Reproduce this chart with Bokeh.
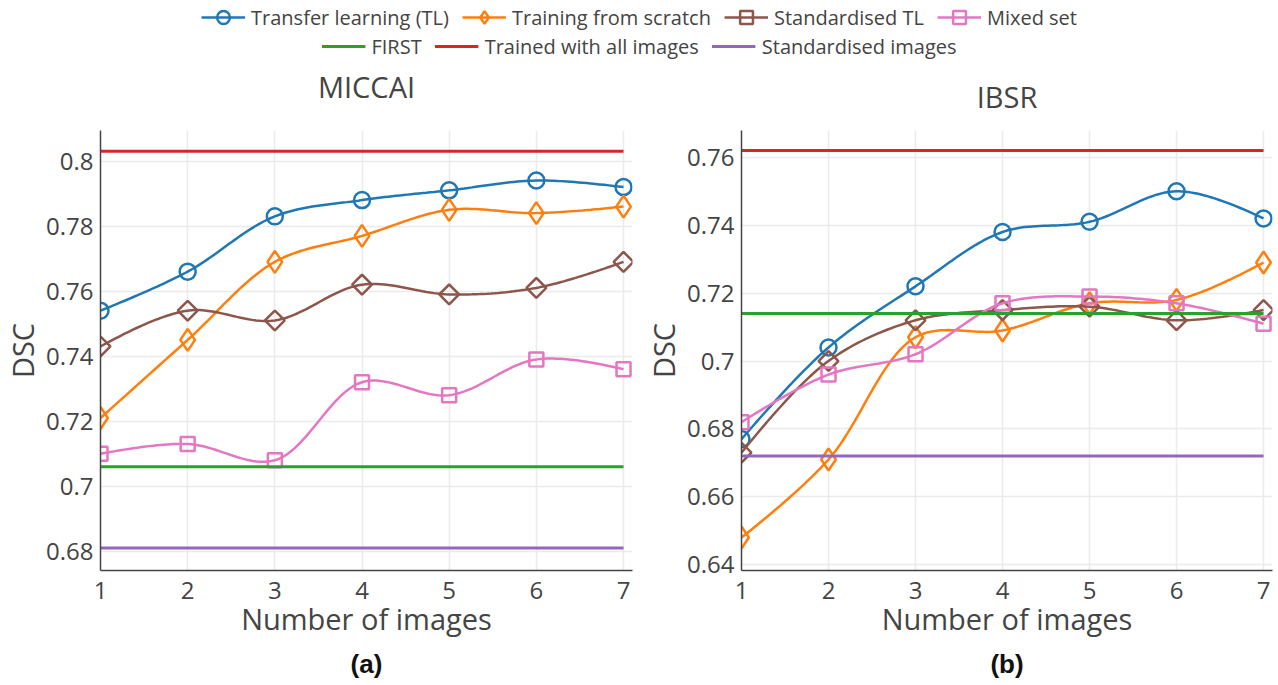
import numpy as np
from bokeh.plotting import figure
from bokeh.models import (Range1d, FixedTicker, CustomJSTickFormatter, Legend,
                          LegendItem, LinearAxis)
from bokeh.layouts import column, row
from bokeh.embed import file_html
from bokeh.resources import INLINE

# ---------------- data ----------------
n_images = [1, 2, 3, 4, 5, 6, 7]

miccai_tl = [0.754, 0.766, 0.783, 0.788, 0.791, 0.794, 0.792]
miccai_scratch = [0.721, 0.745, 0.769, 0.777, 0.785, 0.784, 0.786]
miccai_std_tl = [0.743, 0.754, 0.751, 0.762, 0.759, 0.761, 0.769]
miccai_mixed = [0.710, 0.713, 0.708, 0.732, 0.728, 0.739, 0.736]
miccai_first = 0.706
miccai_all = 0.803
miccai_std_images = 0.681
miccai_y_ticks = [0.68, 0.70, 0.72, 0.74, 0.76, 0.78, 0.80]

ibsr_tl = [0.677, 0.704, 0.722, 0.738, 0.741, 0.750, 0.742]
ibsr_scratch = [0.648, 0.671, 0.707, 0.709, 0.717, 0.718, 0.729]
ibsr_std_tl = [0.673, 0.700, 0.712, 0.715, 0.716, 0.712, 0.715]
ibsr_mixed = [0.682, 0.696, 0.702, 0.717, 0.719, 0.717, 0.711]
ibsr_first = 0.714
ibsr_all = 0.762
ibsr_std_images = 0.672
ibsr_y_ticks = [0.64, 0.66, 0.68, 0.70, 0.72, 0.74, 0.76]

series_names = ["Transfer learning (TL)", "Training from scratch", "Standardised TL", "Mixed set"]
ref_names = ["FIRST", "Trained with all images", "Standardised images"]

# ---------------- styles ----------------
S_COLORS = ["#1f77b4", "#ff7f0e", "#8c564b", "#e377c2"]
S_MARKERS = ["circle", "diamond", "square", "square"]
S_SIZES = [16, 22, 14, 14]
S_ANGLES = [0, 0, np.pi / 4, 0]
R_COLORS = ["#2ca02c", "#d62728", "#9467bd"]
FONT = "Open Sans"
TXT = "#444444"
LW = 2.5


def spline(xs, ys, kx, ky, smoothness=1.0, steps=24):
    """Plotly-like smooth open path through the points (computed in pixel space)."""
    P = np.column_stack([np.asarray(xs, float) * kx, np.asarray(ys, float) * ky])
    n = len(P)
    if n < 3:
        return list(xs), list(ys)
    tang = []
    for i in range(1, n - 1):
        d1 = P[i - 1] - P[i]
        d2 = P[i + 1] - P[i]
        d1a = (d1 @ d1) ** 0.25
        d2a = (d2 @ d2) ** 0.25
        num = (d2a * d2a * d1 - d1a * d1a * d2) * smoothness
        den1 = 3 * d2a * (d1a + d2a)
        den2 = 3 * d1a * (d1a + d2a)
        tang.append((P[i] + num / den1, P[i] - num / den2))
    t = np.linspace(0, 1, steps)[:, None]
    segs = [(1 - t) ** 2 * P[0] + 2 * (1 - t) * t * tang[0][0] + t ** 2 * P[1]]
    for i in range(2, n - 1):
        c1 = tang[i - 2][1]
        c2 = tang[i - 1][0]
        seg = ((1 - t) ** 3 * P[i - 1] + 3 * (1 - t) ** 2 * t * c1
               + 3 * (1 - t) * t ** 2 * c2 + t ** 3 * P[i])
        segs.append(seg[1:])
    c = tang[n - 3][1]
    segs.append(((1 - t) ** 2 * P[n - 2] + 2 * (1 - t) * t * c + t ** 2 * P[n - 1])[1:])
    Sg = np.vstack(segs)
    return list(Sg[:, 0] / kx), list(Sg[:, 1] / ky)


def label_axis(text, standoff, font, size, style, color):
    """An axis without ticks, used only to carry a text label outside the frame."""
    return LinearAxis(ticker=FixedTicker(ticks=[], minor_ticks=[]), axis_label=text,
                      axis_line_color=None, major_tick_line_color=None,
                      minor_tick_line_color=None, major_tick_out=0, major_tick_in=0,
                      minor_tick_out=0, minor_tick_in=0, major_label_standoff=0,
                      axis_label_standoff=standoff, axis_label_text_font=font,
                      axis_label_text_font_size=size, axis_label_text_font_style=style,
                      axis_label_text_color=color)


def make_panel(title, caption, series, refs, y_ticks, y_lo, y_hi,
               width, b_left, b_right, title_standoff):
    height, b_top, b_bottom = 625, 70, 115
    x_lo, x_hi = 1, 7.103
    p = figure(width=width, height=height, x_range=Range1d(x_lo, x_hi),
               y_range=Range1d(y_lo, y_hi), output_backend="svg",
               toolbar_location=None, min_border_left=b_left,
               min_border_right=b_right, min_border_top=b_top,
               min_border_bottom=b_bottom)
    fw = width - b_left - b_right
    fh = height - b_top - b_bottom
    kx = fw / (x_hi - x_lo)
    ky = fh / (y_hi - y_lo)

    p.outline_line_color = None
    p.grid.grid_line_color = "#ebebeb"
    p.grid.grid_line_width = 1.5
    for ax in (p.xaxis[0], p.yaxis[0]):
        ax.axis_line_color = TXT
        ax.axis_line_width = 1.5
        ax.major_tick_line_color = None
        ax.minor_tick_line_color = None
        ax.major_tick_out = 0
        ax.major_tick_in = 0
        ax.major_label_text_font = FONT
        ax.major_label_text_font_size = "24px"
        ax.major_label_text_color = TXT
        ax.axis_label_text_font = FONT
        ax.axis_label_text_font_size = "29px"
        ax.axis_label_text_font_style = "normal"
        ax.axis_label_text_color = TXT
    p.xaxis.ticker = FixedTicker(ticks=n_images)
    p.yaxis.ticker = FixedTicker(ticks=y_ticks)
    p.yaxis.formatter = CustomJSTickFormatter(code="return String(parseFloat(tick.toFixed(3)));")
    p.xaxis.axis_label = "Number of images"
    p.yaxis.axis_label = "DSC"
    p.xaxis.major_label_standoff = 11
    p.xaxis.axis_label_standoff = -3
    p.yaxis.major_label_standoff = 7
    p.yaxis.axis_label_standoff = 1

    for ys, color, marker, size, angle in zip(series, S_COLORS, S_MARKERS, S_SIZES, S_ANGLES):
        sx, sy = spline(n_images, ys, kx, ky)
        p.line(sx, sy, line_color=color, line_width=LW)
        p.scatter(n_images, ys, marker=marker, size=size, angle=angle,
                  fill_color=None, line_color=color, line_width=LW)
    for val, color in zip(refs, R_COLORS):
        p.line([n_images[0], n_images[-1]], [val, val], line_color=color, line_width=3)

    p.add_layout(label_axis(title, title_standoff, FONT, "29px", "normal", TXT), "above")
    p.add_layout(label_axis(caption, 8, "Liberation Sans", "26px", "bold", "#111111"), "below")
    return p


p1 = make_panel("MICCAI", "(a)",
                [miccai_tl, miccai_scratch, miccai_std_tl, miccai_mixed],
                [miccai_first, miccai_all, miccai_std_images],
                miccai_y_ticks, 0.6741, 0.8094, 640, 100, 8, 25)
p2 = make_panel("IBSR", "(b)",
                [ibsr_tl, ibsr_scratch, ibsr_std_tl, ibsr_mixed],
                [ibsr_first, ibsr_all, ibsr_std_images],
                ibsr_y_ticks, 0.6383, 0.7679, 638, 101, 6, 15)

# ---------------- legend ----------------
lf = figure(width=1278, height=60, x_range=Range1d(-10, -9), y_range=Range1d(-10, -9),
            output_backend="svg", toolbar_location=None, min_border=0)
lf.axis.visible = False
lf.grid.visible = False
lf.outline_line_color = None

items1 = []
for name, color, marker, angle, ys in zip(series_names, S_COLORS, S_MARKERS, S_ANGLES,
                                          [miccai_tl, miccai_scratch, miccai_std_tl, miccai_mixed]):
    rl = lf.line(n_images[:1], ys[:1], line_color=color, line_width=LW)
    rs = lf.scatter(n_images[:1], ys[:1], marker=marker, angle=angle, fill_color=None,
                    line_color=color, line_width=LW)
    items1.append(LegendItem(label=name, renderers=[rl, rs]))
items2 = []
for name, color, val in zip(ref_names, R_COLORS, [miccai_first, miccai_all, miccai_std_images]):
    rl = lf.line(n_images[:1], [val], line_color=color, line_width=3)
    items2.append(LegendItem(label=name, renderers=[rl]))

for items, margin in ((items1, 1), (items2, 30)):
    leg = Legend(items=items, orientation="horizontal", location="top",
                 margin=margin, padding=0, spacing=13, glyph_width=44,
                 glyph_height=32, label_standoff=6, label_height=20,
                 label_text_font=FONT, label_text_font_size="20px",
                 label_text_color=TXT, border_line_color=None,
                 background_fill_alpha=0)
    lf.add_layout(leg)

layout = column(lf, row(p1, p2))
open("out.html", "w").write(file_html(layout, INLINE))
